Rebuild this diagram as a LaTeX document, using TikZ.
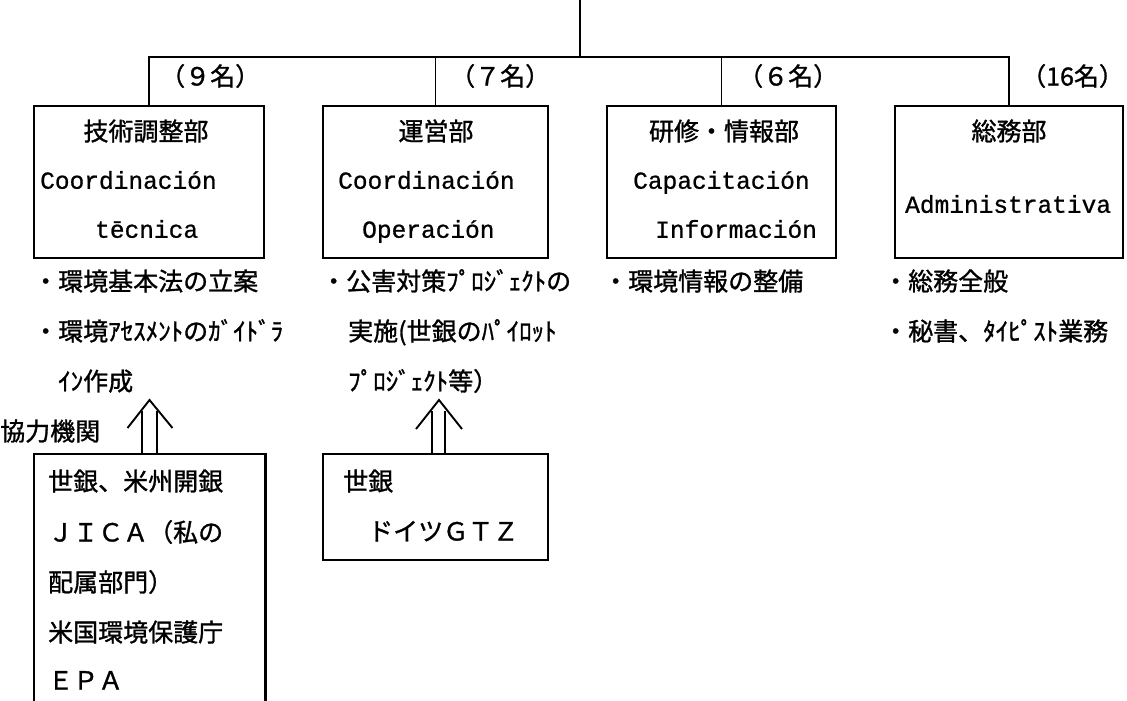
\documentclass[tikz,border=0pt]{standalone}
\usepackage{fontspec}
\setmainfont{Noto Sans CJK JP}[FakeBold=1.2]
\newfontfamily\monofont{Liberation Mono}[FakeBold=0.8]
\begin{document}
\begin{tikzpicture}[x=1pt,y=-1pt,
  box/.style={draw,line width=2.6pt,inner sep=0pt},
  conn/.style={line width=1.8pt},
  arr/.style={line width=1.9pt},
  jt/.style={font=\fontsize{25}{25}\selectfont,inner sep=0pt,anchor=west,text height=0.8em,text depth=0.1em},
  jc/.style={font=\fontsize{25}{25}\selectfont,inner sep=0pt,text height=0.8em,text depth=0.1em},
  lt/.style={font=\monofont\fontsize{24.5}{25}\selectfont,inner sep=0pt,anchor=west,text height=0.7em,text depth=0.15em}]
\useasboundingbox (0,0) rectangle (1127,701);
% department boxes
\node[box,minimum width=230pt,minimum height=152pt] (b1) at (149,182) {};
\node[box,minimum width=225pt,minimum height=152pt] (b2) at (435.5,182) {};
\node[box,minimum width=229pt,minimum height=152pt] (b3) at (721.5,182) {};
\node[box,minimum width=228pt,minimum height=152pt] (b4) at (1009,182) {};
% organisation lines
\coordinate (root) at (580,0);
\coordinate (bus) at (580,57);
\draw[conn] (root) -- (bus);
\draw[conn] (b1.north) |- (bus) -| (b4.north);
\draw[conn] (b2.north) -- (b2.north |- bus);
\draw[conn] (b3.north) -- (b3.north |- bus);
% counts
\node[jt] (n1) at (160,82) {（９名）};
\node[jt] (n2) at (450,82) {（７名）};
\node[jt] (n3) at (738,82) {（６名）};
\node[jt] (n4) at (1021,82) {（16名）};
% box texts
\node[jc] (t11) at (146,137) {技術調整部};
\node[lt] (t12) at (40,186) {Coordinación};
\node[lt] (t13) at (95,235) {tēcnica};
\node[jc] (t21) at (436,137) {運営部};
\node[lt] (t22) at (338,186) {Coordinación};
\node[lt] (t23) at (362,235) {Operación};
\node[jc] (t31) at (724,137) {研修・情報部};
\node[lt] (t32) at (633,186) {Capacitación};
\node[lt] (t33) at (655,235) {Información};
\node[jc] (t41) at (1009,137) {総務部};
\node[lt] (t42) at (905,210) {Administrativa};
% tasks
\node[jt] (d11) at (33,287) {・環境基本法の立案};
\node[jt] (d12) at (33,337) {・環境ｱｾｽﾒﾝﾄのｶﾞｲﾄﾞﾗ};
\node[jt] (d13) at (58,387) {ｲﾝ作成};
\node[jt] (d21) at (321,287) {・公害対策ﾌﾟﾛｼﾞｪｸﾄの};
\node[jt] (d22) at (348,337) {実施(世銀のﾊﾟｲﾛｯﾄ};
\node[jt] (d23) at (348,387) {ﾌﾟﾛｼﾞｪｸﾄ等）};
\node[jt] (d31) at (603,287) {・環境情報の整備};
\node[jt] (d41) at (883,287) {・総務全般};
\node[jt] (d42) at (883,337) {・秘書、ﾀｲﾋﾟｽﾄ業務};
% cooperating bodies
\node[jt] (coop) at (0,437) {協力機関};
\node[inner sep=0pt,minimum width=231pt,minimum height=248pt] (b5) at (149.5,578) {};
\draw[box] (b5.south west) |- (b5.north east) -- (b5.south east);
\node[box,minimum width=225pt,minimum height=106pt] (b6) at (435.5,507) {};
\node[jt] (e1) at (48,487) {世銀、米州開銀};
\node[jt] (e2) at (48,538) {ＪＩＣＡ（私の};
\node[jt] (e3) at (48,588) {配属部門）};
\node[jt] (e4) at (48,638) {米国環境保護庁};
\node[jt] (e5) at (48,686) {ＥＰＡ};
\node[jt] (f1) at (343,487) {世銀};
\node[jt] (f2) at (368,537) {ドイツＧＴＺ};
% double arrows
\coordinate (lvl) at (0,400);
\coordinate (tip1) at (b5.north |- lvl);
\coordinate (tip2) at ([xshift=3.5pt]b6.north |- lvl);
\draw[arr] ([xshift=-7.5pt]b5.north) -- ([xshift=-7.5pt,yshift=-11pt]tip1);
\draw[arr] ([xshift=7.5pt]b5.north) -- ([xshift=7.5pt,yshift=-11pt]tip1);
\draw[arr] ([shift={(-22,28)}]tip1) -- (tip1) -- ([shift={(23,28)}]tip1);
\draw[arr] ([xshift=-3.5pt]b6.north) -- ([xshift=-7pt,yshift=-11pt]tip2);
\draw[arr] ([xshift=9.5pt]b6.north) -- ([xshift=6pt,yshift=-11pt]tip2);
\draw[arr] ([shift={(-23,29)}]tip2) -- (tip2) -- ([shift={(23,29)}]tip2);
\end{tikzpicture}
\end{document}
